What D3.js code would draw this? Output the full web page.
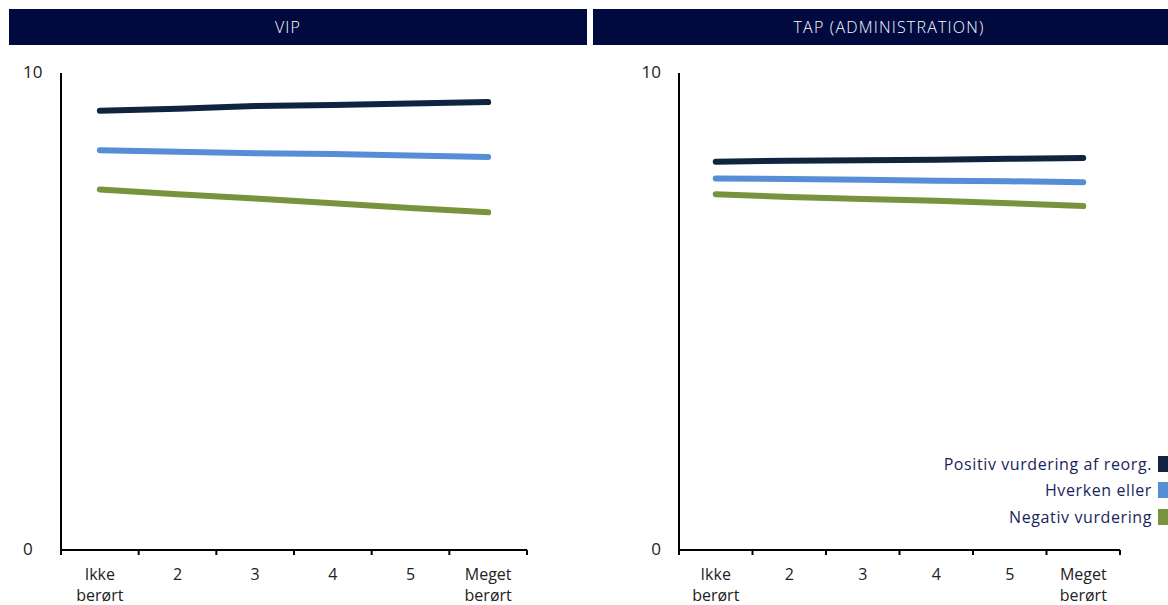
<!DOCTYPE html>
<html><head><meta charset="utf-8">
<script src="https://cdn.jsdelivr.net/npm/d3@7"></script>
<style>body{margin:0;background:#fff}svg{display:block}text{font-family:"Open Sans",Lato,sans-serif}</style>
</head><body><svg id="c" width="1168" height="605"></svg>
<script>
const categories = ["Ikke berørt","2","3","4","5","Meget berørt"];
const seriesNames = ["Positiv vurdering af reorg.","Hverken eller","Negativ vurdering"];
const seriesColors = ["#10243f","#558ed5","#77933c"];
const panelTitles = ["VIP","TAP (ADMINISTRATION)"];
const yTicks = [0,10];
const vipPositiv  = [9.21,9.25,9.31,9.33,9.36,9.39];
const vipHverken  = [8.38,8.35,8.32,8.30,8.27,8.24];
const vipNegativ  = [7.56,7.46,7.37,7.27,7.17,7.08];
const tapPositiv  = [8.14,8.16,8.17,8.18,8.20,8.22];
const tapHverken  = [7.79,7.78,7.76,7.74,7.73,7.71];
const tapNegativ  = [7.46,7.40,7.36,7.32,7.27,7.21];

const panels = [
  {title:panelTitles[0], series:[vipPositiv,vipHverken,vipNegativ], hx0:9, hx1:587, tx:288, ax0:61, ax1:527, yLabAnchor:"start", yLabX:23},
  {title:panelTitles[1], series:[tapPositiv,tapHverken,tapNegativ], hx0:593, hx1:1190, tx:889, ax0:679, ax1:1120, yLabAnchor:"end", yLabX:661}
];
const svg = d3.select("#c");
const yTop = 73, yBot = 550;

panels.forEach(p => {
  svg.append("rect").attr("x",p.hx0).attr("y",9).attr("width",p.hx1-p.hx0).attr("height",36).attr("fill","#000a3f");
  svg.append("text").attr("x",p.tx).attr("y",27).attr("dy","0.35em").attr("text-anchor","middle")
    .attr("fill","#fff").attr("font-size",16).attr("letter-spacing","1.2px").attr("font-weight",300).text(p.title);

  const x = d3.scaleBand().domain(categories).range([p.ax0,p.ax1]).padding(0);
  const y = d3.scaleLinear().domain([0,10]).range([yBot,yTop]);
  const g = svg.append("g");

  g.append("line").attr("x1",p.ax0).attr("x2",p.ax0).attr("y1",y(10)).attr("y2",y(0)).attr("stroke","#000").attr("stroke-width",2);
  g.selectAll(".yl").data(yTicks).join("text").attr("x",p.yLabX).attr("y",d=>y(d)-1).attr("dy","0.35em")
    .attr("text-anchor",p.yLabAnchor).attr("font-size",17).attr("fill","#222").text(d=>d);

  g.append("line").attr("x1",p.ax0).attr("x2",p.ax1).attr("y1",yBot).attr("y2",yBot).attr("stroke","#000").attr("stroke-width",2);
  const bounds = categories.map(c=>x(c)).concat([x.range()[1]]);
  g.selectAll(".tk").data(bounds).join("line").attr("x1",d=>d).attr("x2",d=>d).attr("y1",yBot).attr("y2",yBot+5)
    .attr("stroke","#000").attr("stroke-width",2);
  const labs = g.selectAll(".xl").data(categories).join("text").attr("x",d=>x(d)+x.bandwidth()/2)
    .attr("y",574).attr("text-anchor","middle").attr("font-size",16).attr("fill","#222");
  labs.each(function(d){
    const parts = d.split(" ");
    d3.select(this).selectAll("tspan").data(parts).join("tspan").attr("x",x(d)+x.bandwidth()/2)
      .attr("dy",(t,i)=>i===0?"0.35em":"21px").text(t=>t);
  });

  const line = d3.line().x((v,i)=>x(categories[i])+x.bandwidth()/2).y(v=>y(v));
  p.series.forEach((s,i)=>{
    g.append("path").datum(s).attr("d",line).attr("fill","none").attr("stroke",seriesColors[i])
      .attr("stroke-width",6).attr("stroke-linecap","round").attr("stroke-linejoin","round");
  });
});

const lg = svg.append("g");
const legY = [464,490,517];
seriesNames.forEach((n,i)=>{
  lg.append("text").attr("x",1152).attr("y",legY[i]).attr("dy","0.35em").attr("text-anchor","end")
    .attr("font-size",16).attr("letter-spacing","0.6px").attr("fill","#1a1f5c").text(n);
  lg.append("rect").attr("x",1158).attr("y",legY[i]-8).attr("width",10).attr("height",16).attr("fill",seriesColors[i]);
});
</script></body></html>
